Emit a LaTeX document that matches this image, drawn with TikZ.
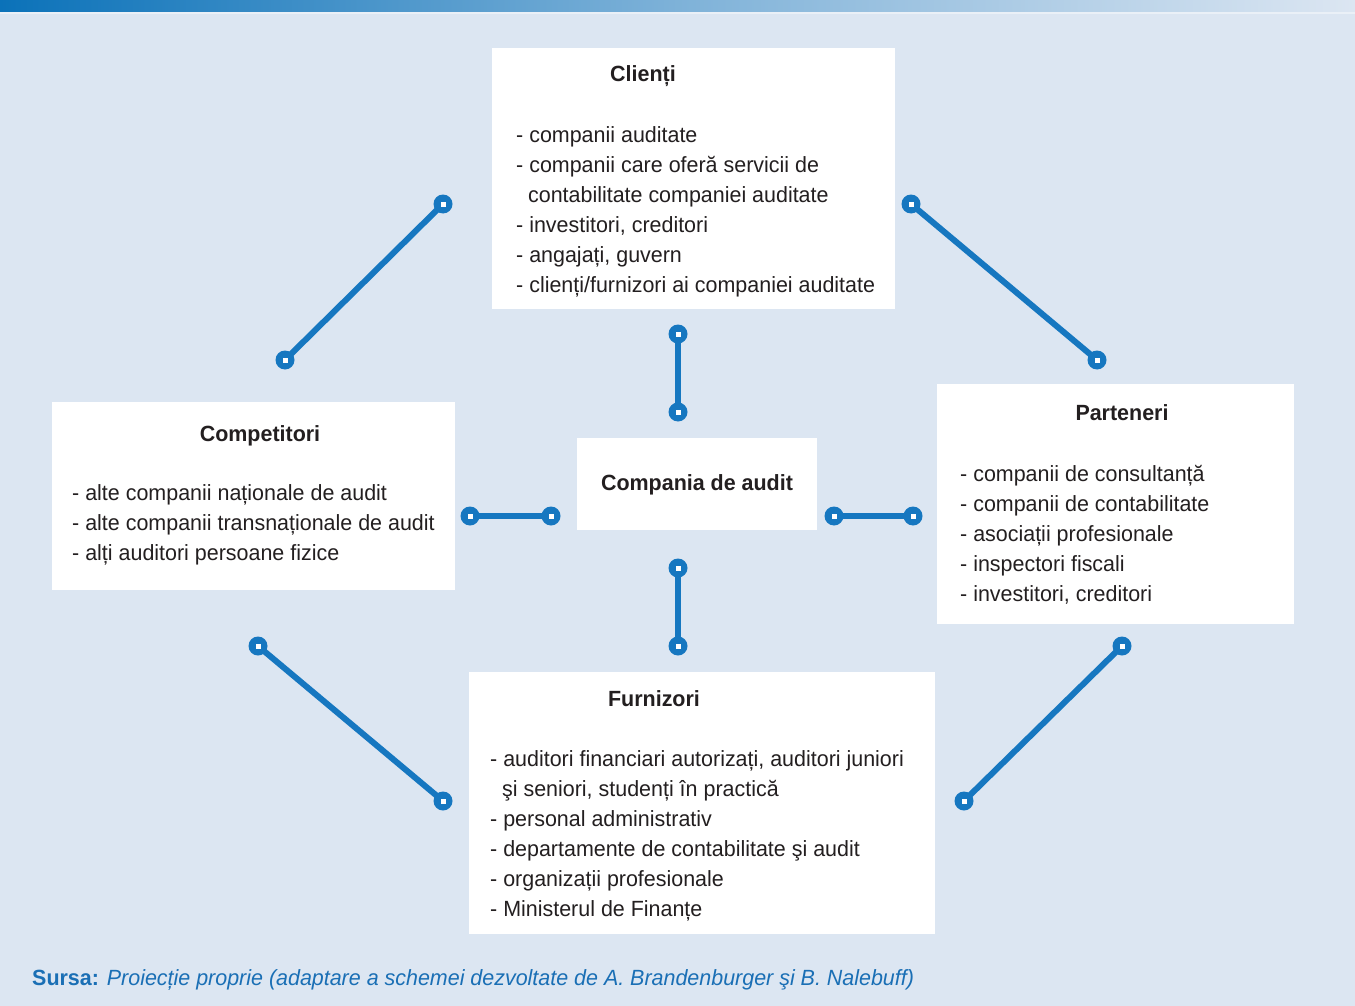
\documentclass[tikz,border=0pt]{standalone}
\usepackage{fontspec}
\setmainfont[FakeStretch=0.975]{Liberation Sans}
\usetikzlibrary{calc}
\definecolor{bg}{HTML}{DCE6F2}
\definecolor{cblue}{HTML}{1677C0}
\definecolor{band}{HTML}{0B72B9}
\definecolor{txt}{HTML}{231F20}
\definecolor{src}{HTML}{1A6FB5}
\tikzset{
  box/.style={fill=white, draw=none, inner sep=0pt, rectangle},
  conn/.style={line width=6pt, draw=cblue},
  ttl/.style={font=\fontsize{22}{30}\selectfont\bfseries, text=txt, anchor=base},
  lst/.style={font=\fontsize{22}{30}\selectfont, text=txt, align=left, anchor=north west, inner sep=0pt},
}
\newcommand\tipmark[1]{\fill[cblue] (#1) circle[radius=9.5pt]; \fill[white] ($(#1)+(-2.5,-2.5)$) rectangle ++(5,5);}
\begin{document}
\begin{tikzpicture}[x=1pt,y=-1pt]
\useasboundingbox (0,0) rectangle (1355,1006);
\fill[bg] (0,0) rectangle (1355,1006);
\shade[left color=band, right color=bg, middle color=band!45!bg] (0,0) rectangle (1355,12);
\fill[white,opacity=0.4] (0,12) rectangle (1355,14);
% boxes
\node[box, minimum width=403pt, minimum height=261pt] (clienti) at (693.5,178.5) {};
\node[box, minimum width=403pt, minimum height=188pt] (comp) at (253.5,496) {};
\node[box, minimum width=240pt, minimum height=92pt] (audit) at (697,484) {};
\node[box, minimum width=357pt, minimum height=240pt] (part) at (1115.5,504) {};
\node[box, minimum width=466pt, minimum height=262pt] (furn) at (702,803) {};
% titles
\node[ttl] (tc) at (643,82) {Clienți};
\node[ttl] (tk) at (260,441) {Competitori};
\node[ttl] (ta) at (697,490) {Compania de audit};
\node[ttl] (tp) at (1122,420) {Parteneri};
\node[ttl] (tf) at (654,706) {Furnizori};
% lists
\node[lst] (lc) at (516,126) {- companii auditate\\- companii care oferă servicii de\\\ \ contabilitate companiei auditate\\- investitori, creditori\\- angajați, guvern\\- clienți/furnizori ai companiei auditate};
\node[lst] (lk) at (72,484) {- alte companii naționale de audit\\- alte companii transnaționale de audit\\- alți auditori persoane fizice};
\node[lst] (lp) at (960,465) {- companii de consultanță\\- companii de contabilitate\\- asociații profesionale\\- inspectori fiscali\\- investitori, creditori};
\node[lst] (lf) at (490,750) {- auditori financiari autorizați, auditori juniori\\\ \ şi seniori, studenți în practică\\- personal administrativ\\- departamente de contabilitate şi audit\\- organizații profesionale\\- Ministerul de Finanțe};
% connector endpoints
\coordinate (a1) at (285,360); \coordinate (a2) at (443,204);
\coordinate (b1) at (911,204); \coordinate (b2) at (1097,360);
\coordinate (c1) at (258,646); \coordinate (c2) at (443,801);
\coordinate (d1) at (964,801); \coordinate (d2) at (1122,646);
\coordinate (e1) at (678,334); \coordinate (e2) at (678,412);
\coordinate (f1) at (678,568); \coordinate (f2) at (678,646);
\coordinate (g1) at (470,516); \coordinate (g2) at (551,516);
\coordinate (h1) at (834,516); \coordinate (h2) at (913,516);
\foreach \p/\q in {a1/a2,b1/b2,c1/c2,d1/d2,e1/e2,f1/f2,g1/g2,h1/h2}{
  \draw[conn] (\p) -- (\q);
  \tipmark{\p}\tipmark{\q}
}
% source
\node[anchor=base west, inner sep=0pt, font=\fontsize{22}{26}\selectfont, text=src] (srcline) at (32,985) {\textbf{Sursa:} \textit{Proiecție proprie (adaptare a schemei dezvoltate de A. Brandenburger şi B. Nalebuff)}};
\end{tikzpicture}
\end{document}
